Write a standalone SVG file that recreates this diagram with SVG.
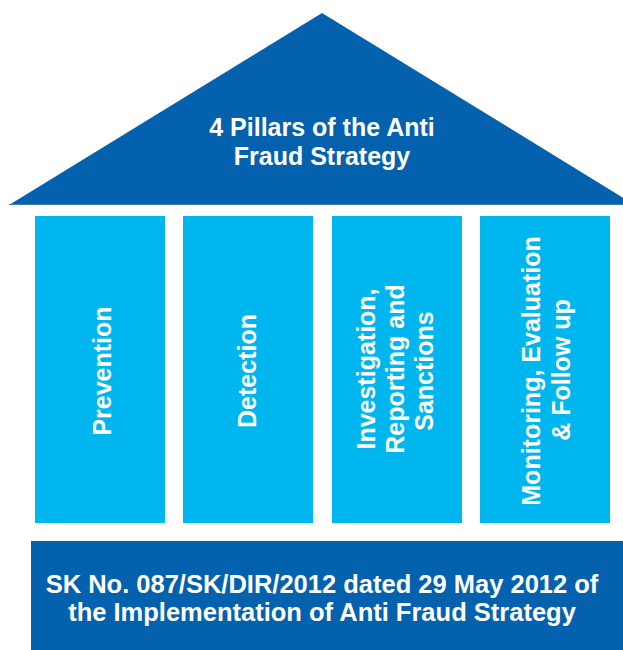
<svg xmlns="http://www.w3.org/2000/svg" width="623" height="650" viewBox="0 0 623 650">
<style>
.dark{fill:#0461ae}
.pillar{fill:#00b6ef}
text{font-family:"Liberation Sans",Arial,sans-serif;font-weight:bold;fill:#ffffff;text-anchor:middle}
.t25{font-size:25px}
.t255{font-size:25.5px}
</style>
<rect width="623" height="650" fill="#ffffff"/>
<g id="roof">
<polygon class="dark" points="322,13 9,205 635,205"/>
<line x1="9" y1="204.5" x2="623" y2="204.5" stroke="#3b7cc0" stroke-width="1"/>
<text class="t25" x="322" y="136">4 Pillars of the Anti</text>
<text class="t25" x="322" y="165">Fraud Strategy</text>
</g>
<g id="pillar-prevention">
<rect class="pillar" x="35" y="216" width="130" height="307"/>
<text class="t25" transform="translate(111,371) rotate(-90)">Prevention</text>
</g>
<g id="pillar-detection">
<rect class="pillar" x="183" y="216" width="130" height="307"/>
<text class="t25" transform="translate(256,371) rotate(-90)">Detection</text>
</g>
<g id="pillar-investigation">
<rect class="pillar" x="332" y="216" width="130" height="307"/>
<text class="t25" transform="translate(375,369) rotate(-90)">Investigation,</text>
<text class="t25" transform="translate(404,369) rotate(-90)">Reporting and</text>
<text class="t25" transform="translate(433,371) rotate(-90)">Sanctions</text>
</g>
<g id="pillar-monitoring">
<rect class="pillar" x="480" y="216" width="130" height="307"/>
<text class="t25" transform="translate(540,371) rotate(-90)">Monitoring, Evaluation</text>
<text class="t25" transform="translate(570,370) rotate(-90)">&amp; Follow up</text>
</g>
<g id="base">
<rect class="dark" x="31" y="541" width="600" height="109"/>
<text class="t255" x="322" y="593">SK No. 087/SK/DIR/2012 dated 29 May 2012 of</text>
<text class="t255" x="322" y="621">the Implementation of Anti Fraud Strategy</text>
</g>
<g id="connectors"/>
</svg>
